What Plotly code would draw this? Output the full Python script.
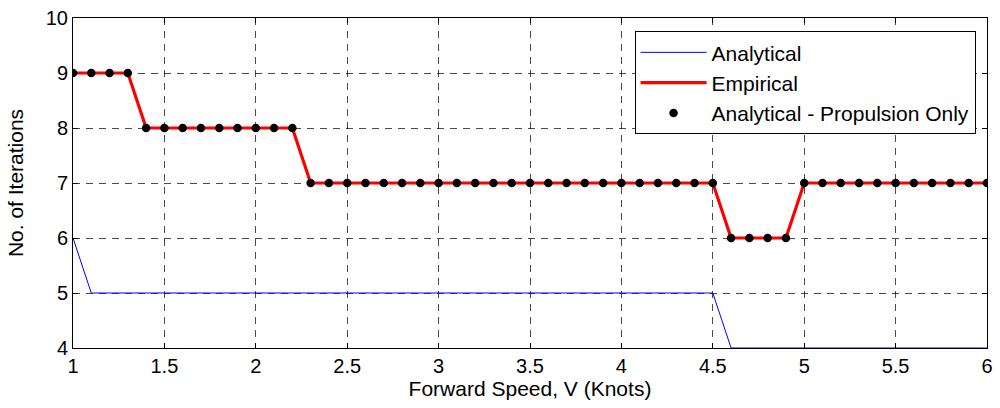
import plotly.graph_objects as go

# Forward speed samples (knots)
speed = [round(1.0 + 0.1 * i, 1) for i in range(51)]

# Iteration counts per method
analytical = [6] + [5] * 35 + [4] * 15
empirical = [9] * 4 + [8] * 9 + [7] * 23 + [6] * 4 + [7] * 11
propulsion_only = [9] * 4 + [8] * 9 + [7] * 23 + [6] * 4 + [7] * 11

x_ticks = [1, 1.5, 2, 2.5, 3, 3.5, 4, 4.5, 5, 5.5, 6]
x_tick_text = ["1", "1.5", "2", "2.5", "3", "3.5", "4", "4.5", "5", "5.5", "6"]
y_ticks = [4, 5, 6, 7, 8, 9, 10]

FONT = "Liberation Sans, Arial, sans-serif"

fig = go.Figure()
fig.add_trace(go.Scatter(
    x=speed, y=analytical, mode="lines", name="Analytical",
    line=dict(color="#0000ff", width=1), cliponaxis=False,
))
fig.add_trace(go.Scatter(
    x=speed, y=empirical, mode="lines", name="Empirical",
    line=dict(color="#ff0000", width=3.2),
))
fig.add_trace(go.Scatter(
    x=speed, y=propulsion_only, mode="markers",
    name="Analytical - Propulsion Only",
    marker=dict(color="black", size=8.5),
))

axis_common = dict(
    showline=True, linecolor="black", linewidth=1, mirror="ticks",
    ticks="inside", ticklen=5, tickcolor="black",
    showgrid=True, gridcolor="rgba(0,0,0,0.7)", griddash="7px,6px", gridwidth=1,
    zeroline=False, tickfont=dict(family=FONT, size=20, color="black"),
)

fig.update_xaxes(
    range=[1, 6], tickvals=x_ticks, ticktext=x_tick_text,
    title=dict(text="Forward Speed, V (Knots)", font=dict(family=FONT, size=21, color="black"),
               standoff=4),
    **axis_common,
)
fig.update_yaxes(
    range=[4, 10], tickvals=y_ticks,
    title=dict(text="No. of Iterations", font=dict(family=FONT, size=21, color="black"),
               standoff=16),
    **axis_common,
)

fig.update_layout(
    width=1000, height=408,
    margin=dict(l=73, r=7, t=15, b=60),
    paper_bgcolor="white", plot_bgcolor="white",
    font=dict(family=FONT, size=21, color="black"),
    legend=dict(
        x=0.9875, y=0.96, xanchor="right", yanchor="top",
        bgcolor="white", bordercolor="black", borderwidth=1,
        font=dict(family=FONT, size=21, color="black"),
        itemwidth=66, tracegroupgap=0,
    ),
    showlegend=True,
)

fig.write_html("out.html")
